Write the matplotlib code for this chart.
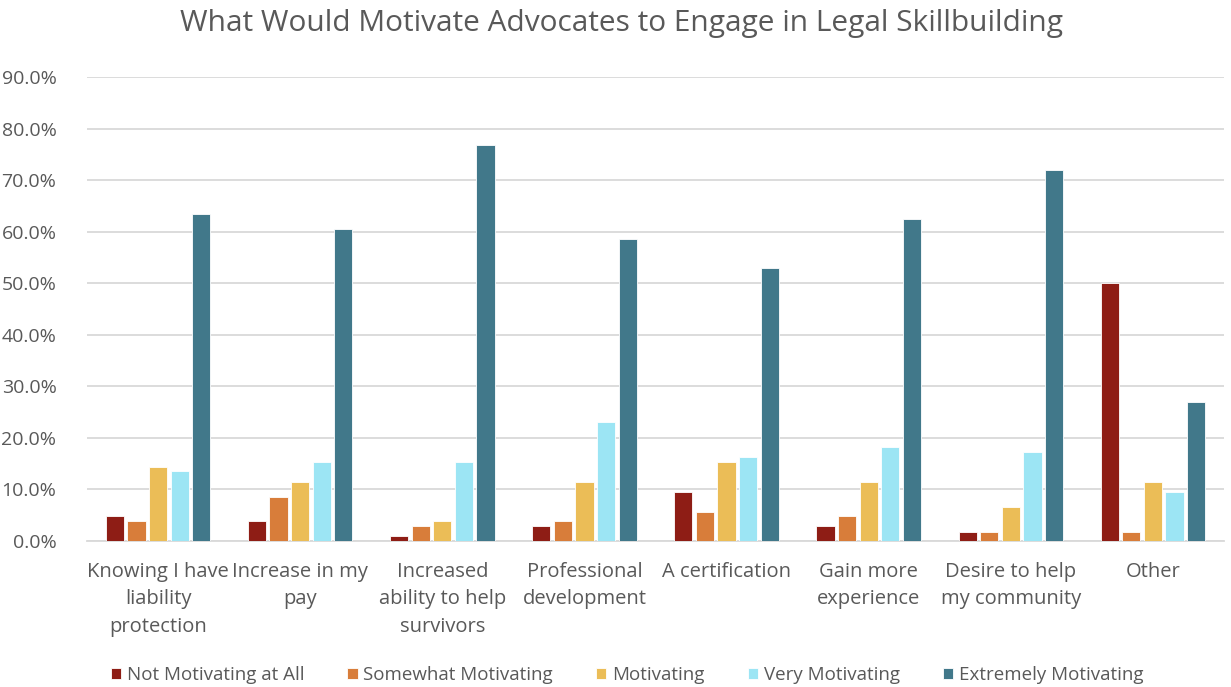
import matplotlib
matplotlib.use("Agg")
import matplotlib.pyplot as plt
import numpy as np
from matplotlib.ticker import PercentFormatter

plt.rcParams['font.family'] = ['Open Sans', 'DejaVu Sans']

categories = [
    "Knowing I have\nliability\nprotection",
    "Increase in my\npay",
    "Increased\nability to help\nsurvivors",
    "Professional\ndevelopment",
    "A certification",
    "Gain more\nexperience",
    "Desire to help\nmy community",
    "Other",
]
series_names = [
    "Not Motivating at All",
    "Somewhat Motivating",
    "Motivating",
    "Very Motivating",
    "Extremely Motivating",
]
not_motivating = [4.8, 3.8, 1.0, 2.9, 9.5, 2.9, 1.8, 50.0]
somewhat_motivating = [3.8, 8.6, 2.9, 3.8, 5.7, 4.8, 1.8, 1.8]
motivating = [14.3, 11.4, 3.8, 11.4, 15.4, 11.4, 6.6, 11.4]
very_motivating = [13.5, 15.4, 15.4, 23.0, 16.3, 18.2, 17.2, 9.5]
extremely_motivating = [63.5, 60.6, 76.9, 58.6, 52.9, 62.5, 72.0, 27.0]
colors = ["#8E1D15", "#D87D3A", "#EBBD57", "#9CE5F4", "#41788A"]

values = [not_motivating, somewhat_motivating, motivating,
          very_motivating, extremely_motivating]

fig = plt.figure(figsize=(12.31, 6.87), dpi=100)
ax = fig.add_axes([87 / 1231, 1 - 541 / 687, (1224 - 87) / 1231, (541 - 77) / 687])

x = np.arange(len(categories))
slot = 0.152
bar_w = 0.128
for i, (vals, name, col) in enumerate(zip(values, series_names, colors)):
    ax.bar(x + (i - 2) * slot, vals, width=bar_w, color=col, label=name,
           edgecolor="white", linewidth=0.6, zorder=3)

ax.set_xlim(-0.5, len(categories) - 0.5)
ax.set_ylim(0, 90)
ax.set_yticks(np.arange(0, 91, 10))
ax.yaxis.set_major_formatter(PercentFormatter(decimals=1))
ax.grid(axis="y", color="#D9D9D9", linewidth=1.3, zorder=0)
for s in ["top", "right", "left"]:
    ax.spines[s].set_visible(False)
ax.spines["bottom"].set_color("#D9D9D9")
ax.spines["bottom"].set_linewidth(1.3)
ax.tick_params(axis="both", length=0, colors="#595959", labelsize=14)
ax.tick_params(axis="y", pad=22)
ax.tick_params(axis="x", pad=15)
ax.set_xticks(x)
ax.set_xticklabels(categories, fontsize=14.5, color="#595959", linespacing=1.5)

fig.text(622 / 1231, 1 - 23 / 687, "What Would Motivate Advocates to Engage in Legal Skillbuilding",
         ha="center", va="center", fontsize=21.5, color="#595959")

leg = fig.legend(loc="center", bbox_to_anchor=(627 / 1231, 1 - 675 / 687), ncol=5,
                 frameon=False, fontsize=13.5, handlelength=0.55, handleheight=0.55,
                 handletextpad=0.3, columnspacing=2.3, labelcolor="#595959")

fig.savefig("out.png", dpi=100, facecolor="white")
